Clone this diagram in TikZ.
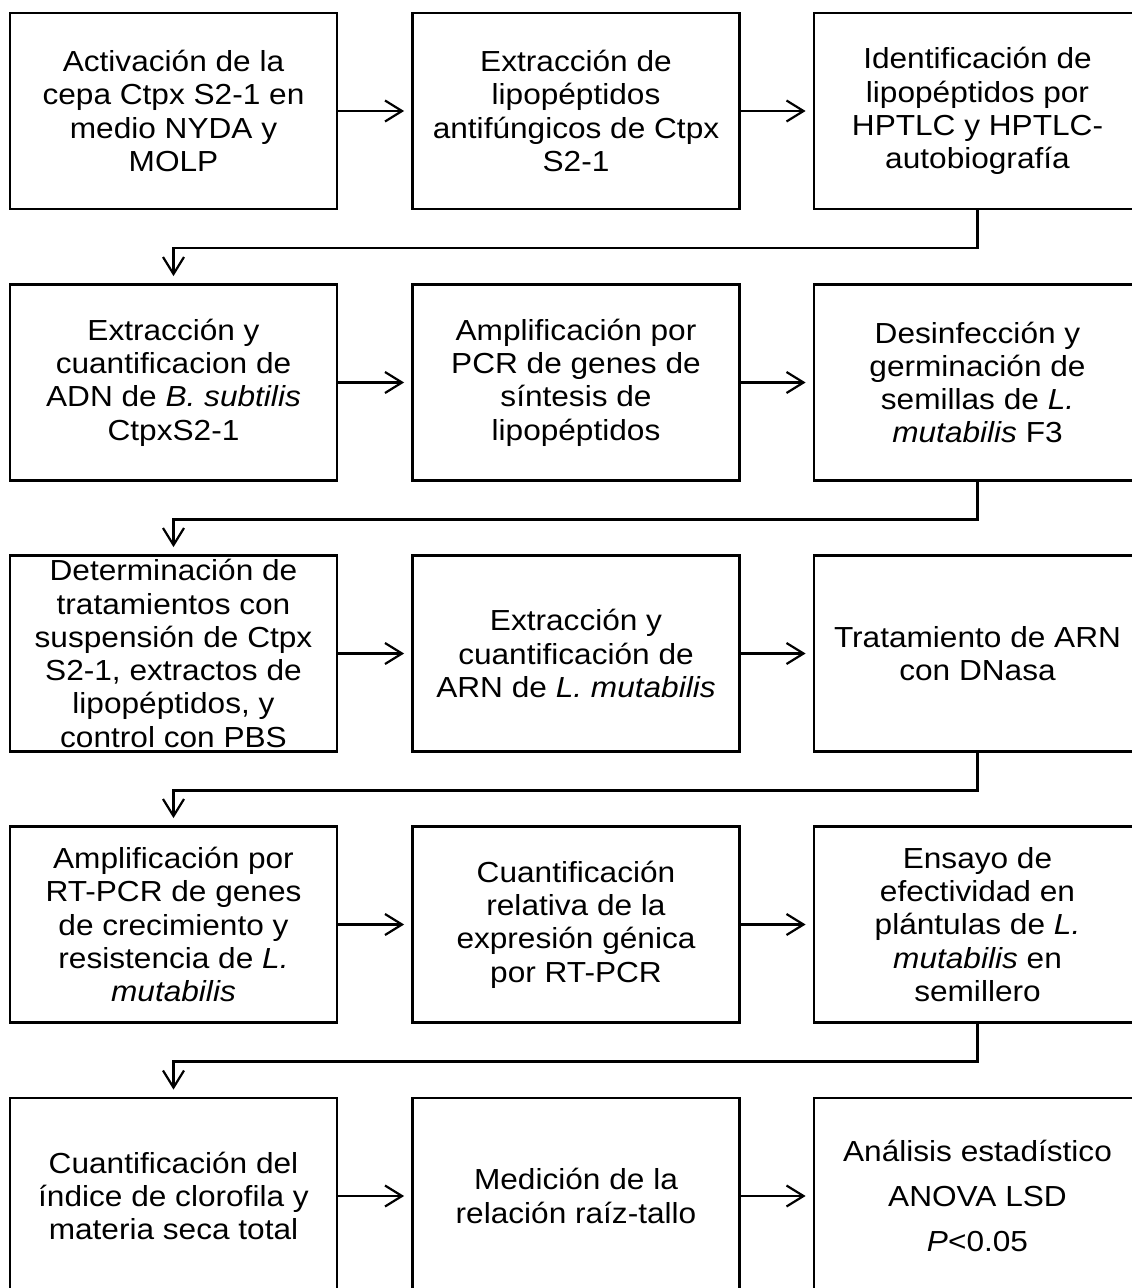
\documentclass[tikz,border=0pt]{standalone}
\usepackage{fontspec}
\setmainfont[FakeStretch=1.09]{Liberation Sans}
\usetikzlibrary{arrows.meta}
\tikzset{
  stepbox/.style={draw, line width=2.8pt, minimum width=327pt, minimum height=196pt,
    inner sep=0pt, align=center, font=\fontsize{29pt}{33.3pt}\selectfont},
  arr/.style={line width=2.2pt, -{Straight Barb[length=17pt,width=21pt,line width=2.2pt]}, shorten >=7pt}
}
\begin{document}
\begin{tikzpicture}[x=1pt,y=-1pt]
\path[use as bounding box, clip] (0,0) rectangle (1132,1288);
% row 1
\node[stepbox] (n11) at (173.5,111) {Activación de la\\cepa Ctpx S2-1 en\\medio NYDA y\\MOLP};
\node[stepbox] (n12) at (576,111) {Extracción de\\lipopéptidos\\antifúngicos de Ctpx\\S2-1};
\node[stepbox] (n13) at (977.5,111) {Identificación de\\lipopéptidos por\\HPTLC y HPTLC-\\autobiografía};
% row 2
\node[stepbox] (n21) at (173.5,382.5) {Extracción y\\cuantificacion de\\ADN de \textit{B. subtilis}\\CtpxS2-1};
\node[stepbox] (n22) at (576,382.5) {Amplificación por\\PCR de genes de\\síntesis de\\lipopéptidos};
\node[stepbox] (n23) at (977.5,382.5) {Desinfección y\\germinación de\\semillas de \textit{L.}\\\textit{mutabilis} F3};
% row 3
\node[stepbox] (n31) at (173.5,653.5) {Determinación de\\tratamientos con\\suspensión de Ctpx\\S2-1, extractos de\\lipopéptidos, y\\control con PBS};
\node[stepbox] (n32) at (576,653.5) {Extracción y\\cuantificación de\\ARN de \textit{L. mutabilis}};
\node[stepbox] (n33) at (977.5,653.5) {Tratamiento de ARN\\con DNasa};
% row 4
\node[stepbox] (n41) at (173.5,924.5) {Amplificación por\\RT-PCR de genes\\de crecimiento y\\resistencia de \textit{L.}\\\textit{mutabilis}};
\node[stepbox] (n42) at (576,924.5) {Cuantificación\\relativa de la\\expresión génica\\por RT-PCR};
\node[stepbox] (n43) at (977.5,924.5) {Ensayo de\\efectividad en\\plántulas de \textit{L.}\\\textit{mutabilis} en\\semillero};
% row 5
\node[stepbox] (n51) at (173.5,1196) {Cuantificación del\\índice de clorofila y\\materia seca total};
\node[stepbox] (n52) at (576,1196) {Medición de la\\relación raíz-tallo};
\node[stepbox] (n53) at (977.5,1196) {Análisis estadístico\\[12pt]ANOVA LSD\\[12pt]\textit{P}<0.05};
% horizontal arrows
\foreach \r in {1,...,5}{
  \draw[arr] (n\r1) -- (n\r2);
  \draw[arr] (n\r2) -- (n\r3);
}
% row transitions
\draw[arr] (n13.south) -- ++(0,37.5) -| (n21.north);
\draw[arr] (n23.south) -- ++(0,37.5) -| (n31.north);
\draw[arr] (n33.south) -- ++(0,37.5) -| (n41.north);
\draw[arr] (n43.south) -- ++(0,37.5) -| (n51.north);
\end{tikzpicture}
\end{document}
